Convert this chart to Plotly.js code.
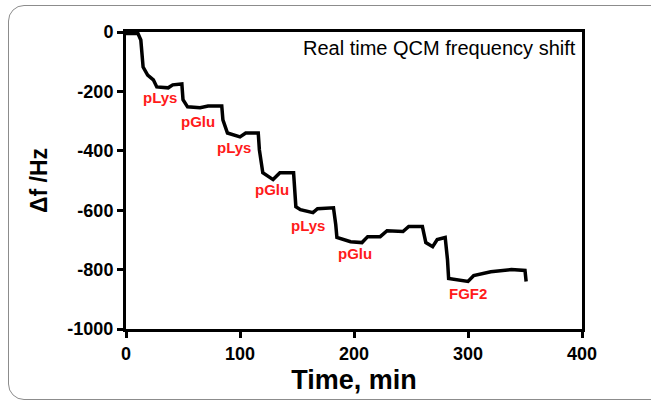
<!DOCTYPE html>
<html>
<head>
<meta charset="utf-8">
<script src="https://cdn.plot.ly/plotly-3.0.1.min.js"></script>
<style>
  html, body { margin: 0; padding: 0; background: #fff; }
  #wrap { position: relative; width: 651px; height: 403px; overflow: hidden; }
  #frame { position: absolute; left: 8px; top: 5px; width: 660px; height: 395px;
           border: 1.5px solid #8c8c8c; border-radius: 16px; box-sizing: border-box; pointer-events: none; }
  #chart { position: absolute; left: 0; top: 0; width: 651px; height: 403px; }
</style>
</head>
<body>
<div id="wrap">
  <div id="chart"></div>
  <div id="frame"></div>
</div>
<script>
// Time (min) and frequency shift (Hz)
const timeMin = [0, 10.5, 13, 15, 19, 24, 27, 37, 41, 49,
                 50, 54, 65, 72, 84, 85, 89, 100, 105, 116,
                 117, 120, 129, 135, 147, 148, 149, 153, 164, 168,
                 182, 184, 185, 197, 207, 212, 223, 229, 243, 248,
                 260, 263, 269, 273, 280, 282, 283, 300, 305, 320,
                 338, 350, 351];
const freqHz = [-5, -5, -27, -118, -145, -161, -185, -188, -178, -175,
                -228, -252, -255, -249, -249, -296, -340, -353, -340, -340,
                -397, -474, -497, -474, -474, -531, -588, -598, -608, -595,
                -592, -649, -692, -706, -709, -689, -689, -669, -672, -655,
                -655, -709, -723, -699, -692, -766, -830, -840, -820, -807,
                -800, -803, -840];

// Step labels
const labelText = ["pLys", "pGlu", "pLys", "pGlu", "pLys", "pGlu", "FGF2"];
const labelT = [30, 63, 95, 128, 160, 201, 300];
const labelF = [-222, -303, -390, -531, -652, -746, -881];

const xTicks = [0, 100, 200, 300, 400];
const yTicks = [0, -200, -400, -600, -800, -1000];

const FONT = "Arial, 'Liberation Sans', sans-serif";
const tickFont = { family: FONT, size: 18, color: "#000", weight: 700 };

const annotations = labelText.map((t, i) => ({
  x: labelT[i], y: labelF[i], xref: "x", yref: "y",
  text: t, showarrow: false,
  font: { family: FONT, size: 15, color: "#ff1a1a", weight: 700 }
}));
annotations.push({
  xref: "paper", yref: "paper", x: 1, y: 1, xanchor: "right", yanchor: "top",
  xshift: -4, yshift: -3, showarrow: false,
  text: "Real time QCM frequency shift",
  font: { family: FONT, size: 20, color: "#000" }
});

const data = [{
  x: timeMin, y: freqHz, type: "scatter", mode: "lines",
  line: { color: "#000", width: 3.5 }, hoverinfo: "skip"
}];

const layout = {
  width: 651, height: 403,
  margin: { l: 126, r: 69, t: 32, b: 74 },
  paper_bgcolor: "rgba(0,0,0,0)", plot_bgcolor: "#fff",
  showlegend: false,
  xaxis: {
    range: [0, 400], tickvals: xTicks, ticktext: xTicks.map(String),
    showgrid: false, zeroline: false,
    showline: true, linecolor: "#000", linewidth: 3, mirror: true,
    ticks: "outside", ticklen: 6, tickwidth: 3, tickcolor: "#000",
    tickfont: tickFont,
    title: { text: "Time, min", standoff: 8,
             font: { family: FONT, size: 27, color: "#000", weight: 700 } }
  },
  yaxis: {
    range: [-1000, 0], tickvals: yTicks, ticktext: yTicks.map(String),
    showgrid: false, zeroline: false,
    showline: true, linecolor: "#000", linewidth: 3, mirror: true,
    ticks: "outside", ticklen: 6, tickwidth: 3, tickcolor: "#000",
    tickfont: tickFont,
    title: { text: "Δf /Hz", standoff: 14,
             font: { family: FONT, size: 23, color: "#000", weight: 700 } }
  },
  annotations: annotations
};

Plotly.newPlot("chart", data, layout, { displayModeBar: false, staticPlot: true });
</script>
</body>
</html>
